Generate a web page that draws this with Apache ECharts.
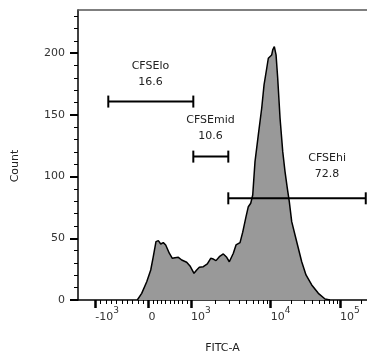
<!DOCTYPE html>
<html>
<head>
<meta charset="utf-8">
<script src="https://cdn.jsdelivr.net/npm/echarts@6/dist/echarts.min.js"></script>
<style>
  html, body { margin: 0; padding: 0; background: #fff; }
  #main { width: 367px; height: 356px; }
</style>
</head>
<body>
<div id="main"></div>
<script>
// histogram, x in biex display units (decades), y = count
const histPos = [0.859, 0.923, 0.996, 1.054, 1.091, 1.130, 1.164, 1.199, 1.236, 1.271,
  1.323, 1.367, 1.406, 1.454, 1.503, 1.575, 1.623, 1.681, 1.720, 1.758,
  1.816, 1.874, 1.923, 1.961, 2.000, 2.048, 2.106, 2.155, 2.193, 2.251,
  2.290, 2.348, 2.387, 2.435, 2.468, 2.503, 2.532, 2.565, 2.613, 2.662,
  2.696, 2.735, 2.758, 2.783, 2.807, 2.822, 2.845, 2.870, 2.894, 2.928,
  2.967, 3.000, 3.033, 3.062, 3.097, 3.145, 3.193, 3.242, 3.304, 3.387,
  3.483, 3.580, 3.652];
const histCount = [0, 5.4, 14.8, 24.3, 35.1, 47.3, 48.1, 45.4, 46.5, 44.6,
  37.9, 33.8, 34.3, 34.6, 32.4, 30.6, 27.6, 21.6, 24.3, 26.5,
  27.0, 29.2, 33.8, 33.2, 31.9, 35.1, 37.3, 34.6, 31.0, 37.9,
  44.6, 46.5, 55, 67.5, 75.6, 78.4, 85.1, 112.1, 133.8, 155.4,
  174.3, 187.8, 195.9, 197.2, 198.6, 202.7, 205.4, 198.6, 179.7, 147.3,
  120.2, 104.0, 90.6, 79.7, 63.5, 52.7, 41.9, 31.0, 20.3, 12.2,
  5.4, 0.8, 0];

// gates
const gateNames = ['CFSElo', 'CFSEmid', 'CFSEhi'];
const gatePct = ['16.6', '10.6', '72.8'];
const gateFrom = [0.439, 1.671, 2.178];
const gateTo = [1.671, 2.178, 4.170];
const gateLevel = [160.8, 116.2, 82.4];

// axis ticks (FITC-A values)
const majorVals = [-1000, 0, 1000, 10000, 100000];
const majorLabels = ['-10', '0', '10', '10', '10'];
const majorExp = ['3', '', '3', '4', '5'];
const minorVals = [-900, -800, -700, -600, -500, -400, -300, -200, -100,
  100, 200, 300, 400, 500, 600, 700, 800, 900,
  2000, 3000, 4000, 5000, 6000, 7000, 8000, 9000,
  20000, 30000, 40000, 50000, 60000, 70000, 80000, 90000, 200000];
const yMajor = [0, 50, 100, 150, 200];
const yMinor = [10, 20, 30, 40, 60, 70, 80, 90, 110, 120, 130, 140,
  160, 170, 180, 190, 210, 220, 230];

// biex scale: linear around zero, log above 10^3
const anchorVal = [-1000, 0, 1000, 10000, 100000];
const anchorPos = [0.251, 1.022, 1.638, 2.793, 3.797];
function biex(v) {
  let i = 0;
  while (i < anchorVal.length - 2 && v > anchorVal[i + 1]) i++;
  const a = anchorVal[i], b = anchorVal[i + 1];
  let f;
  if (a > 0) f = Math.log10(v / a) / Math.log10(b / a);
  else f = (v - a) / (b - a);
  return anchorPos[i] + f * (anchorPos[i + 1] - anchorPos[i]);
}
const majorPos = majorVals.map(biex);

const X_MIN = 0, X_MAX = 4.188;
const Y_MIN = 0, Y_MAX = 235;
const gateLabelX = [1.05, 1.92, 3.61];
const gateLabelLift = [11, 12, 16];
const font = 'DejaVu Sans';

var myChart = echarts.init(document.getElementById('main'));

const option = {
  animation: false,
  grid: { left: 78, right: 0, top: 10, bottom: 56, containLabel: false, outerBoundsMode: 'none' },
  xAxis: [
    {
      type: 'value', position: 'bottom', min: X_MIN, max: X_MAX,
      name: 'FITC-A', nameLocation: 'middle', nameGap: 43,
      nameTextStyle: { fontFamily: font, fontSize: 11, color: '#222' },
      axisLine: { lineStyle: { color: '#000', width: 1.5 } },
      axisTick: {
        customValues: majorPos, length: 8,
        lineStyle: { color: '#000', width: 2.5 }
      },
      axisLabel: {
        customValues: majorPos, margin: 3, align: 'left',
        formatter: function (value) {
          // find which major tick this is
          let k = 0;
          majorPos.forEach((p, j) => { if (Math.abs(p - value) < Math.abs(majorPos[k] - value)) k = j; });
          let s = '{b|' + majorLabels[k] + '}';
          if (majorExp[k]) s += '{s|' + majorExp[k] + '}';
          return s;
        },
        rich: {
          b: { fontFamily: font, fontSize: 11, color: '#333', lineHeight: 20, verticalAlign: 'bottom' },
          s: { fontFamily: font, fontSize: 9, color: '#333', verticalAlign: 'top', padding: [3, 0, 0, 0] }
        }
      },
      splitLine: { show: false }
    },
    {
      // minor ticks
      type: 'value', position: 'bottom', min: X_MIN, max: X_MAX,
      axisLine: { show: false },
      axisTick: {
        customValues: minorVals.map(biex), length: 4,
        lineStyle: { color: '#000', width: 1 }
      },
      axisLabel: { show: false },
      splitLine: { show: false }
    },
    {
      // frame line on top
      type: 'value', position: 'top', min: X_MIN, max: X_MAX,
      axisLine: { lineStyle: { color: '#555', width: 1.5 } },
      axisTick: { show: false },
      axisLabel: { show: false },
      splitLine: { show: false }
    }
  ],
  yAxis: [
    {
      type: 'value', position: 'left', min: Y_MIN, max: Y_MAX,
      name: 'Count', nameLocation: 'middle', nameGap: 57,
      nameTextStyle: { fontFamily: font, fontSize: 11, color: '#222', padding: [0, 22, 0, 0] },
      axisLine: { show: true, lineStyle: { color: '#000', width: 1.5 } },
      axisTick: {
        show: true, customValues: yMajor, length: 8,
        lineStyle: { color: '#000', width: 2 }
      },
      axisLabel: {
        customValues: yMajor, margin: 13,
        fontFamily: font, fontSize: 11, color: '#333'
      },
      splitLine: { show: false }
    },
    {
      // minor ticks
      type: 'value', position: 'left', min: Y_MIN, max: Y_MAX,
      axisLine: { show: false },
      axisTick: {
        show: true, customValues: yMinor, length: 4,
        lineStyle: { color: '#000', width: 1 }
      },
      axisLabel: { show: false },
      splitLine: { show: false }
    }
  ],
  series: [
    {
      type: 'line',
      data: histPos.map((p, i) => [p, histCount[i]]),
      symbol: 'none',
      lineStyle: { color: '#000', width: 1.5 },
      areaStyle: { color: '#999999', opacity: 1 },
      z: 2
    },
    {
      type: 'custom',
      clip: false,
      z: 5,
      encode: { x: [0, 1], y: 2 },
      data: gateNames.map((n, i) => [gateFrom[i], gateTo[i], gateLevel[i]]),
      renderItem: function (params, api) {
        const i = params.dataIndex;
        const a = api.coord([api.value(0), api.value(2)]);
        const b = api.coord([api.value(1), api.value(2)]);
        const t = api.coord([gateLabelX[i], api.value(2)]);
        const stroke = { stroke: '#000', lineWidth: 2 };
        return {
          type: 'group',
          children: [
            { type: 'line', shape: { x1: a[0], y1: a[1], x2: b[0], y2: b[1] }, style: stroke },
            { type: 'line', shape: { x1: a[0], y1: a[1] - 6, x2: a[0], y2: a[1] + 6 }, style: stroke },
            { type: 'line', shape: { x1: b[0], y1: b[1] - 6, x2: b[0], y2: b[1] + 6 }, style: stroke },
            {
              type: 'text', x: t[0], y: a[1] - gateLabelLift[i],
              style: {
                text: gateNames[i] + '\n' + gatePct[i],
                fontFamily: font, fontSize: 11, lineHeight: 16,
                fill: '#222', align: 'center', verticalAlign: 'bottom'
              }
            }
          ]
        };
      }
    }
  ]
};

myChart.setOption(option);
</script>
</body>
</html>
